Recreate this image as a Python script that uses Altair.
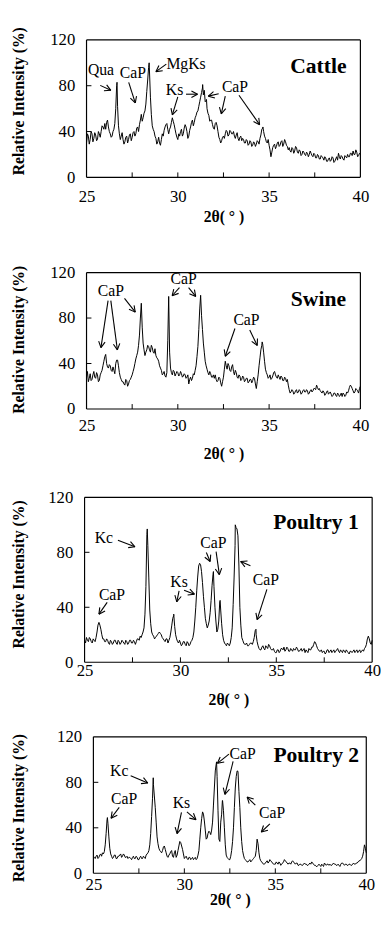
import math
import altair as alt
import pandas as pd

FONT = "Liberation Serif"
X0, X1 = 25.0, 40.0
Y0, Y1 = 0.0, 120.0
STEP = 0.1

# ---------------- data ----------------
# *_grid: values at 25.0, 25.1, ... 40.0 ; *_half: values at 25.05, 25.15, ... 39.95 ; *_peaks: peak tops
cattle_grid = [
    30, 36, 33, 38, 34, 37, 33, 38, 40, 44,   # 25.x
    47, 48, 44, 38, 36, 42, 60, 62, 38, 36,   # 26.x
    33, 31, 36, 33, 38, 35, 40, 38, 44, 46,   # 27.x
    55, 52, 58, 75, 96, 70, 45, 40, 34, 31,   # 28.x
    30, 33, 36, 44, 47, 38, 44, 52, 46, 38,   # 29.x
    33, 36, 42, 38, 46, 40, 36, 44, 50, 48,   # 30.x
    54, 58, 66, 74, 72, 66, 60, 54, 50, 46,   # 31.x
    42, 48, 40, 33, 32, 36, 38, 40, 37, 40,   # 32.x
    38, 36, 37, 34, 35, 32, 33, 30, 32, 29,   # 33.x
    31, 28, 30, 29, 31, 34, 42, 40, 34, 30,   # 34.x
    28, 18, 26, 29, 27, 31, 28, 32, 29, 31,   # 35.x
    27, 26, 22, 25, 23, 26, 21, 23, 20, 22,   # 36.x
    19, 21, 20, 21, 18, 20, 17, 19, 16, 18,   # 37.x
    15, 17, 14, 17, 15, 17, 14, 18, 21, 16,   # 38.x
    18, 15, 18, 20, 18, 21, 23, 20, 22, 19,   # 39.x
    20,
]
cattle_half = [
    38, 29, 40, 31, 39, 32, 40, 35, 45, 42,
    42, 50, 40, 35, 40, 47, 80, 45, 33, 39,
    29, 35, 30, 37, 32, 39, 36, 43, 40, 50,
    49, 56, 64, 85, 92, 55, 42, 36, 29, 35,
    28, 38, 41, 46, 42, 42, 48, 49, 42, 35,
    38, 40, 36, 43, 44, 34, 41, 48, 45, 52,
    57, 62, 70, 78, 76, 67, 56, 49, 50, 43,
    47, 45, 35, 30, 35, 34, 41, 36, 41, 38,
    40, 34, 39, 32, 36, 34, 30, 33, 28, 32,
    27, 31, 27, 32, 29, 37, 43, 36, 31, 33,
    24, 22, 28, 25, 30, 27, 31, 27, 33, 28,
    24, 23, 26, 21, 27, 22, 24, 19, 23, 20,
    22, 18, 23, 19, 21, 17, 20, 16, 19, 17,
    18, 14, 16, 14, 18, 13, 16, 15, 18, 19,
    16, 19, 17, 18, 21, 19, 20, 24, 18, 21,
]
cattle_peaks = [(26.67, 83), (28.43, 100), (31.36, 81), (31.57, 68), (34.66, 44)]

swine_grid = [
    28, 24, 31, 26, 33, 27, 30, 25, 32, 38,
    46, 40, 36, 38, 33, 34, 40, 43, 32, 26,
    24, 21, 25, 22, 26, 30, 36, 44, 50, 65,
    93, 58, 47, 52, 55, 50, 54, 49, 47, 44,
    38, 34, 31, 29, 32, 99, 36, 30, 33, 31,
    32, 30, 31, 29, 30, 28, 22, 28, 27, 30,
    38, 55, 88, 82, 58, 42, 35, 30, 31, 28,
    27, 26, 25, 27, 20, 28, 42, 35, 38, 33,
    39, 30, 32, 27, 29, 26, 28, 25, 27, 24,
    26, 25, 27, 18, 30, 45, 56, 50, 35, 30,
    28, 26, 29, 33, 28, 30, 26, 28, 25, 27,
    26, 17, 15, 16, 14, 17, 15, 16, 14, 17,
    15, 16, 14, 17, 16, 18, 21, 17, 16, 14,
    15, 13, 16, 14, 13, 12, 14, 11, 13, 12,
    11, 13, 12, 14, 19, 20, 16, 15, 17, 14,
    20,
]
swine_half = [
    33, 27, 25, 30, 28, 32, 24, 30, 34, 42,
    48, 37, 39, 34, 37, 31, 43, 38, 28, 24,
    22, 26, 20, 25, 28, 33, 40, 47, 56, 80,
    72, 52, 50, 56, 52, 56, 50, 53, 45, 42,
    36, 30, 33, 28, 60, 50, 32, 34, 29, 33,
    29, 33, 28, 31, 27, 30, 26, 25, 31, 34,
    46, 70, 100, 70, 50, 38, 32, 33, 28, 30,
    30, 24, 28, 23, 24, 35, 38, 40, 34, 37,
    33, 34, 28, 30, 25, 29, 24, 27, 23, 26,
    23, 28, 22, 24, 38, 52, 57, 42, 32, 27,
    30, 27, 32, 30, 27, 28, 29, 25, 28, 24,
    21, 14, 17, 13, 16, 14, 17, 13, 16, 15,
    17, 13, 16, 15, 18, 17, 19, 18, 15, 16,
    12, 15, 13, 15, 11, 14, 12, 14, 11, 14,
    14, 11, 15, 16, 21, 18, 14, 18, 16, 18,
]
swine_peaks = [(31.25, 100), (34.62, 59)]

poultry1_grid = [
    16, 18, 15, 17, 14, 16, 18, 27, 27, 20,
    17, 15, 16, 13, 15, 14, 16, 13, 15, 14,
    15, 13, 15, 14, 16, 14, 15, 15, 17, 19,
    20, 25, 55, 85, 38, 22, 19, 18, 20, 22,
    20, 17, 15, 17, 16, 22, 32, 26, 17, 14,
    14, 13, 15, 12, 14, 13, 16, 22, 40, 62,
    72, 66, 48, 32, 25, 30, 45, 64, 40, 22,
    30, 38, 20, 14, 12, 13, 14, 25, 62, 98,
    92, 40, 18, 14, 13, 12, 13, 14, 15, 23,
    15, 10, 9, 12, 9, 11, 13, 10, 9, 8,
    7, 9, 8, 10, 11, 9, 10, 8, 9, 10,
    9, 10, 8, 10, 9, 7, 8, 10, 9, 11,
    15, 12, 9, 8, 7, 8, 7, 9, 8, 7,
    9, 8, 10, 7, 8, 9, 7, 8, 6, 8,
    8, 7, 9, 8, 7, 9, 10, 13, 19, 14,
    16,
]
poultry1_half = [
    14, 16, 18, 15, 17, 15, 22, 29, 24, 17,
    15, 17, 14, 16, 13, 16, 14, 16, 13, 16,
    14, 16, 13, 16, 14, 16, 13, 17, 16, 18,
    22, 35, 93, 62, 28, 20, 17, 19, 21, 21,
    18, 16, 17, 14, 18, 27, 34, 20, 15, 16,
    12, 15, 13, 15, 12, 15, 18, 30, 52, 70,
    71, 58, 40, 28, 27, 36, 56, 55, 30, 24,
    44, 28, 16, 13, 14, 12, 18, 42, 85, 97,
    70, 27, 16, 13, 14, 12, 14, 13, 18, 20,
    12, 9, 11, 10, 12, 10, 12, 9, 10, 7,
    9, 7, 10, 9, 8, 11, 8, 10, 8, 9,
    11, 8, 9, 8, 10, 9, 7, 9, 11, 13,
    14, 10, 8, 9, 8, 6, 9, 7, 9, 8,
    7, 9, 8, 9, 7, 8, 9, 7, 8, 7,
    9, 8, 7, 9, 8, 8, 11, 17, 17, 13,
]
poultry1_peaks = [(28.27, 97), (29.65, 35), (31.72, 66), (32.07, 45), (32.86, 100), (33.94, 24)]

poultry2_grid = [
    15, 13, 16, 14, 17, 18, 19, 35, 44, 22,
    15, 14, 16, 13, 15, 17, 15, 16, 14, 13,
    14, 12, 15, 13, 14, 12, 15, 13, 14, 16,
    18, 25, 50, 78, 58, 32, 22, 19, 20, 24,
    18, 14, 17, 20, 14, 20, 16, 24, 27, 21,
    13, 15, 12, 14, 13, 12, 14, 13, 20, 40,
    54, 46, 30, 35, 36, 38, 60, 90, 85, 30,
    45, 64, 40, 16, 13, 12, 20, 40, 75, 90,
    72, 40, 20, 13, 11, 10, 12, 11, 13, 15,
    30, 18, 11, 9, 8, 10, 9, 12, 10, 8,
    8, 9, 10, 7, 9, 12, 10, 8, 9, 10,
    10, 8, 9, 7, 8, 7, 9, 8, 7, 9,
    10, 8, 7, 6, 8, 6, 7, 9, 7, 8,
    8, 7, 9, 8, 7, 7, 8, 9, 7, 8,
    7, 8, 7, 9, 8, 9, 11, 12, 15, 25,
    18,
]
poultry2_half = [
    14, 15, 13, 16, 15, 17, 25, 47, 32, 17,
    13, 16, 13, 15, 16, 14, 17, 14, 15, 14,
    13, 14, 13, 15, 12, 14, 13, 15, 13, 17,
    20, 35, 66, 68, 45, 26, 20, 18, 23, 21,
    15, 16, 19, 15, 18, 14, 20, 28, 24, 17,
    14, 13, 14, 12, 14, 13, 12, 16, 30, 48,
    52, 38, 31, 37, 34, 45, 75, 96, 55, 28,
    52, 55, 25, 14, 12, 15, 28, 58, 85, 89,
    58, 28, 16, 12, 10, 11, 10, 12, 14, 20,
    26, 13, 10, 8, 9, 11, 10, 11, 9, 8,
    10, 8, 9, 8, 10, 11, 9, 9, 8, 11,
    9, 9, 7, 8, 7, 8, 8, 7, 8, 8,
    9, 7, 6, 7, 7, 8, 6, 8, 8, 7,
    7, 8, 8, 7, 8, 6, 9, 8, 8, 7,
    8, 7, 8, 8, 9, 10, 11, 13, 19, 22,
]
poultry2_peaks = [(25.77, 49), (28.29, 84), (31.77, 98), (32.09, 64), (32.93, 90)]

# ---------------- annotations (text, x, y) and arrows (x_from, y_from, x_to, y_to) ----------------
cattle_labels = [("Qua", 25.79, 94), ("CaP", 27.54, 91), ("MgKs", 30.45, 99),
                 ("Ks", 29.82, 76), ("CaP", 33.13, 79)]
cattle_arrows = [(25.75, 80.3, 26.33, 76), (27.31, 83, 27.67, 65), (29.37, 98.9, 28.8, 92.3),
                 (30.0, 70.3, 29.7, 54.6), (30.45, 72.6, 31.08, 72.6), (32.24, 73, 31.67, 70.9),
                 (32.6, 70.9, 32.38, 55.5), (33.35, 71.7, 34.48, 46)]
cattle_name = ("Cattle", 37.7, 97)

swine_labels = [("CaP", 26.33, 104), ("CaP", 30.32, 114), ("CaP", 33.76, 78)]
swine_arrows = [(26.18, 95.3, 25.79, 54), (26.33, 95.3, 26.69, 52), (27.08, 97.3, 27.67, 85.2),
                (30.09, 106.8, 29.69, 99.6), (30.59, 106.8, 30.98, 99),
                (33.13, 70.8, 32.6, 46.4), (33.94, 69.4, 34.35, 55.9)]
swine_name = ("Swine", 37.7, 97)

poultry1_labels = [("Kc", 26.01, 90), ("CaP", 26.43, 49), ("Ks", 29.93, 58),
                   ("CaP", 31.72, 87), ("CaP", 34.46, 60)]
poultry1_arrows = [(26.74, 88.8, 27.63, 84), (26.18, 43.6, 25.75, 35), (29.93, 52, 29.81, 44),
                   (30.19, 52.4, 30.73, 49.5), (31.35, 79.8, 31.55, 73.3), (31.86, 80.5, 32.03, 63.8),
                   (33.65, 70.2, 33.14, 73.3), (34.51, 53, 34.0, 31)]
poultry1_name = ("Poultry 1", 37.07, 102)

poultry2_labels = [("Kc", 26.42, 90), ("CaP", 26.69, 65), ("Ks", 29.84, 62),
                   ("CaP", 33.2, 105), ("CaP", 34.82, 53)]
poultry2_arrows = [(27.05, 85.8, 27.99, 79.4), (26.42, 57.9, 25.97, 48.4), (29.84, 53.6, 29.6, 34.8),
                   (30.14, 54, 30.64, 47.2), (32.45, 104.8, 31.82, 96.7), (32.68, 98.4, 32.23, 69.4),
                   (33.9, 60, 33.45, 67), (34.7, 43.4, 34.23, 36.3)]
poultry2_name = ("Poultry 2", 37.25, 104)

x_tick_labels = [25, 30, 35, 40]
y_tick_labels = [0, 40, 80, 120]
x_minor_ticks = [27.5, 30, 32.5, 35, 37.5]
y_minor_ticks = [40, 80]

LEFT = 80  # common left extent of every panel (invisible spacer), in px


def series_df(grid, half, peaks):
    assert len(grid) == 151, len(grid)
    assert len(half) == 150, len(half)
    xs = [round(X0 + i * STEP, 2) for i in range(len(grid))]
    xh = [round(X0 + STEP / 2 + i * STEP, 3) for i in range(len(half))]
    pts = sorted(list(zip(xs, grid)) + list(zip(xh, half)) + list(peaks))
    return pd.DataFrame(pts, columns=["x", "y"])


def arrow_df(arrows, W, H, head=7.0, ang=28.0):
    rows = []
    sx = W / (X1 - X0)
    sy = H / (Y1 - Y0)
    for (xa, ya, xb, yb) in arrows:
        rows.append(dict(x=xa, y=ya, x2=xb, y2=yb))
        pxa, pya = (xa - X0) * sx, (Y1 - ya) * sy
        pxb, pyb = (xb - X0) * sx, (Y1 - yb) * sy
        dx, dy = pxb - pxa, pyb - pya
        n = math.hypot(dx, dy)
        ux, uy = dx / n, dy / n
        for s in (1, -1):
            a = math.radians(ang) * s
            bx = -ux * math.cos(a) + uy * math.sin(a)
            by = -ux * math.sin(a) - uy * math.cos(a)
            wx, wy = pxb + head * bx, pyb + head * by
            rows.append(dict(x=xb, y=yb, x2=X0 + wx / sx, y2=Y1 - wy / sy))
    return pd.DataFrame(rows)


def panel(grid, half, peaks, labels, arrows, name, W, H, dx, T, B, xlab_pad, xtitle_y, ytitle_x, ytitle_y):
    xsc = alt.Scale(domain=[X0, X1], range=[dx, dx + W], nice=False, zero=False)
    ysc = alt.Scale(domain=[Y0, Y1], nice=False, zero=False)
    xax = alt.Axis(values=x_tick_labels, format="d", title="2θ( ° )", labelFlush=False,
                   labelPadding=xlab_pad, titleX=dx + W / 2, titleY=xtitle_y, titleBaseline="middle",
                   ticks=False, domain=False, grid=False)
    yax = alt.Axis(values=y_tick_labels, format="d", title="Relative Intensity (%)", offset=-dx,
                   titleX=ytitle_x, titleY=ytitle_y, titleAngle=270, titleAlign="center",
                   titleBaseline="middle", ticks=False, domain=False, grid=False, labelPadding=12)
    X = lambda f: alt.X(f, scale=xsc, axis=xax)
    Y = lambda f: alt.Y(f, scale=ysc, axis=yax)

    line = alt.Chart(series_df(grid, half, peaks)).mark_line(color="black", strokeWidth=1.0).encode(
        x=X("x:Q"), y=Y("y:Q"))
    xt = alt.Chart(pd.DataFrame({"x": x_minor_ticks})).mark_rule(color="black", strokeWidth=1).encode(
        x=X("x:Q"), y=alt.value(H), y2=alt.value(H - 5))
    yt = alt.Chart(pd.DataFrame({"y": y_minor_ticks})).mark_rule(color="black", strokeWidth=1).encode(
        y=Y("y:Q"), x=alt.value(dx), x2=alt.value(dx + 5))
    # plot frame (box round the plot area)
    fx = alt.Chart(pd.DataFrame({"x": [X0, X1]})).mark_rule(color="black", strokeWidth=1.2).encode(
        x=X("x:Q"), y=alt.value(0), y2=alt.value(H))
    fy = alt.Chart(pd.DataFrame({"y": [Y0, Y1]})).mark_rule(color="black", strokeWidth=1.2).encode(
        y=Y("y:Q"), x=alt.value(dx), x2=alt.value(dx + W))
    arr = alt.Chart(arrow_df(arrows, W, H)).mark_rule(color="black", strokeWidth=1.1).encode(
        x=X("x:Q"), y=Y("y:Q"), x2="x2:Q", y2="y2:Q")
    lab = alt.Chart(pd.DataFrame(labels, columns=["t", "x", "y"])).mark_text(
        font=FONT, fontSize=16, color="black", align="center", baseline="middle").encode(
        x=X("x:Q"), y=Y("y:Q"), text="t:N")
    ttl = alt.Chart(pd.DataFrame([name], columns=["t", "x", "y"])).mark_text(
        font=FONT, fontSize=22, fontWeight="bold", color="black", align="center", baseline="middle").encode(
        x=X("x:Q"), y=Y("y:Q"), text="t:N")
    spacer = alt.Chart(pd.DataFrame({"a": [0]})).mark_rule(strokeOpacity=0, strokeWidth=0.01).encode(
        x=alt.value(-LEFT), y=alt.value(-T), y2=alt.value(H + B))
    return alt.layer(line, xt, yt, fx, fy, arr, lab, ttl, spacer).properties(width=max(W + dx, W), height=H)


p1 = panel(cattle_grid, cattle_half, cattle_peaks, cattle_labels, cattle_arrows, cattle_name,
           W=279, H=140, dx=0, T=24, B=73, xlab_pad=12, xtitle_y=40, ytitle_x=-69, ytitle_y=62)
p2 = panel(swine_grid, swine_half, swine_peaks, swine_labels, swine_arrows, swine_name,
           W=279, H=139, dx=0, T=24, B=66, xlab_pad=9, xtitle_y=45, ytitle_x=-69, ytitle_y=68)
p3 = panel(poultry1_grid, poultry1_half, poultry1_peaks, poultry1_labels, poultry1_arrows, poultry1_name,
           W=293, H=168, dx=-2, T=24, B=52, xlab_pad=1, xtitle_y=38, ytitle_x=-67, ytitle_y=78)
p4 = panel(poultry2_grid, poultry2_half, poultry2_peaks, poultry2_labels, poultry2_arrows, poultry2_name,
           W=278, H=139, dx=7, T=24, B=26, xlab_pad=4, xtitle_y=27, ytitle_x=-76, ytitle_y=72)

chart = alt.concat(p1, p2, p3, p4, columns=1, spacing=0, bounds="full", align="none").properties(
    padding=0
).configure_view(
    strokeWidth=0
).configure_axis(
    labelFont=FONT, labelFontSize=17, labelColor="black",
    titleFont=FONT, titleFontSize=16, titleFontWeight="bold", titleColor="black"
)

chart.save("out.html", embed_options={"renderer": "svg", "actions": False})
